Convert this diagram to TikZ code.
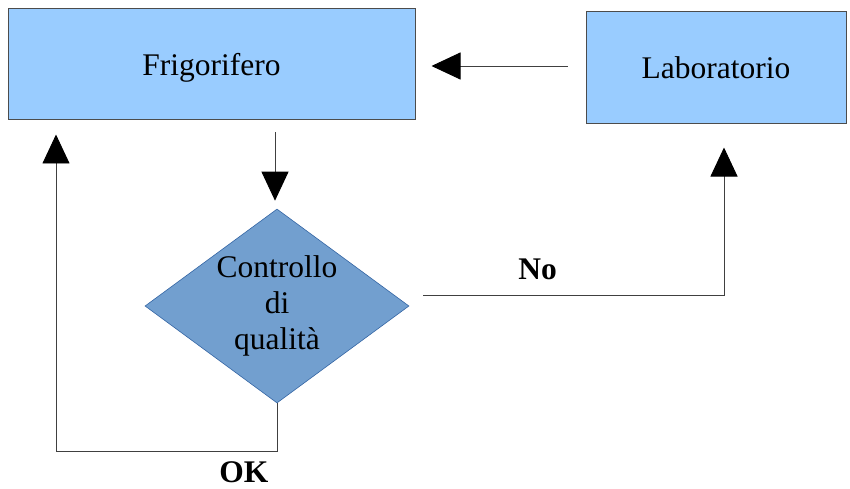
\documentclass[tikz,border=0pt]{standalone}
\usepackage{fontspec}
\setmainfont{Liberation Serif}
\usetikzlibrary{shapes.geometric,arrows.meta,calc}
\definecolor{boxblue}{HTML}{99CCFF}
\definecolor{diamblue}{HTML}{729FCF}
\definecolor{diamline}{HTML}{3465A4}
\begin{document}
\begin{tikzpicture}[x=1pt,y=-1pt,
    box/.style={draw=black!70, line width=1pt, fill=boxblue, font=\fontsize{31.5}{34}\selectfont},
    flow/.style={draw=black!75, line width=0.9pt, -{Triangle[length=29pt,width=27pt,color=black]}},
    lbl/.style={font=\fontsize{31.5}{34}\selectfont\bfseries, inner sep=3pt}]
    \useasboundingbox (0,0) rectangle (850,489);

    % Draw the boxes
    \node[box, minimum width=407pt, minimum height=111pt, text depth=0pt] (frigo) at (211.5,64.5) {Frigorifero};
    \node[box, minimum width=260pt, minimum height=112pt] (lab) at (716,68) {Laboratorio};

    % Draw the check
    \node[diamond, draw=diamline, line width=0.6pt, fill=diamblue, aspect=1.36, inner sep=0pt,
          minimum width=264pt, minimum height=194pt, align=center,
          font=\fontsize{31.5}{36}\selectfont] (qc) at (277,306) {Controllo\\di\\qualità};

    % Corners of the connections
    \coordinate (nocorner) at (724,295);
    \coordinate (okleft) at (56,451);

    % Draw connections
    \draw[flow, shorten <=18pt, shorten >=16pt] ([yshift=2pt]lab.west) -- ([yshift=2pt]lab.west -| frigo.east);
    \draw[flow, shorten <=12pt, shorten >=8pt] ([xshift=-2pt]qc.north |- frigo.south) -- ([xshift=-2pt]qc.north);
    \draw[flow] ([xshift=14pt,yshift=11pt]qc.east) -- node[lbl, pos=0.38, above=12pt] {No} (nocorner)
        -- ($(nocorner |- lab.south)+(0,23)$);
    \draw[flow] (qc.south) -- (qc.south |- okleft) -- node[lbl, pos=0.15, below=7pt] {OK} (okleft)
        -- ($(okleft |- frigo.south)+(0,14)$);

\end{tikzpicture}
\end{document}
